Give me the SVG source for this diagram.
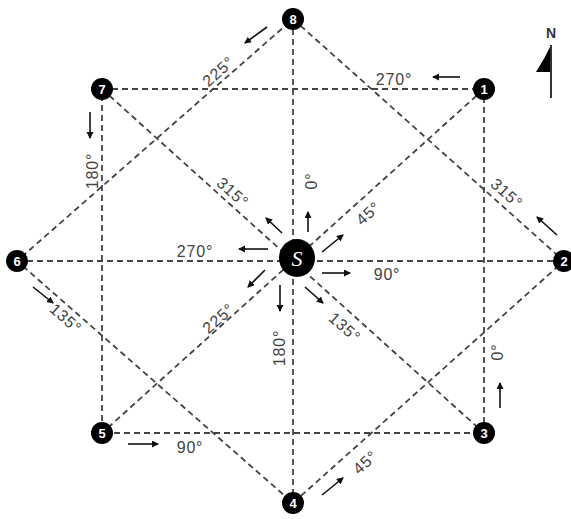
<svg xmlns="http://www.w3.org/2000/svg" width="571" height="519" viewBox="0 0 571 519">
<style>
.d{stroke:#444;stroke-width:1.8;stroke-dasharray:6 4;fill:none}
.a{stroke:#111;stroke-width:1.6;fill:none;marker-end:url(#ah)}
.t{font-family:"Liberation Sans",Arial,sans-serif;font-size:16px;fill:#444;text-anchor:middle;letter-spacing:0.8px}
.n circle{fill:#000}
.n text{font-family:"Liberation Sans",Arial,sans-serif;font-size:13px;font-weight:bold;fill:#fff;text-anchor:middle}
</style>
<defs>
<marker id="ah" markerWidth="8" markerHeight="8" refX="6" refY="3.5" orient="auto" markerUnits="userSpaceOnUse">
<path d="M0,0 L7,3.5 L0,7 Z" fill="#111"/>
</marker>
</defs>
<rect width="571" height="519" fill="#fff"/>
<g id="connectors">
<path class="d" d="M102,89 H484 V433 H102 Z"/>
<path class="d" d="M293,19 L564,261 L293,503 L17,261 Z"/>
<path class="d" d="M17,261 H564"/>
<path class="d" d="M293,19 V503"/>
<path class="d" d="M102,89 L484,433"/>
<path class="d" d="M484,89 L102,433"/>
</g>
<g id="arrows">
<path class="a" d="M460,77 L433,77"/>
<path class="a" d="M267,27 L245,43"/>
<path class="a" d="M90,112 L90,138"/>
<path class="a" d="M33,287 L53,303"/>
<path class="a" d="M128,444 L158,444"/>
<path class="a" d="M322,495 L343,478"/>
<path class="a" d="M500,408 L500,383"/>
<path class="a" d="M557,235 L537,217"/>
<path class="a" d="M308,232 L308,212"/>
<path class="a" d="M322,252 L343,235"/>
<path class="a" d="M322,273 L350,273"/>
<path class="a" d="M305,287 L323,303"/>
<path class="a" d="M280,285 L280,311"/>
<path class="a" d="M265,270 L248,287"/>
<path class="a" d="M268,249 L239,249"/>
<path class="a" d="M282,233 L266,218"/>
</g>
<g id="labels">
<text class="t" x="394" y="85">270°</text>
<text class="t" transform="translate(218,71) rotate(-41.8)" y="6">225°</text>
<text class="t" transform="translate(92,171) rotate(-90)" y="6">180°</text>
<text class="t" transform="translate(66,318) rotate(41.8)" y="6">135°</text>
<text class="t" x="190" y="453">90°</text>
<text class="t" transform="translate(365,462) rotate(-41.8)" y="6">45°</text>
<text class="t" transform="translate(497,352) rotate(-90)" y="6">0°</text>
<text class="t" transform="translate(507,193) rotate(41.8)" y="6">315°</text>
<text class="t" transform="translate(311,181) rotate(-90)" y="6">0°</text>
<text class="t" transform="translate(368,213) rotate(-41.8)" y="6">45°</text>
<text class="t" x="387" y="280">90°</text>
<text class="t" transform="translate(345,327) rotate(41.8)" y="6">135°</text>
<text class="t" transform="translate(279,348) rotate(-90)" y="6">180°</text>
<text class="t" transform="translate(218,318) rotate(-41.8)" y="6">225°</text>
<text class="t" x="195" y="257">270°</text>
<text class="t" transform="translate(233,192) rotate(41.8)" y="6">315°</text>
</g>
<g id="node1" class="n"><circle cx="484" cy="89" r="11"/><text x="484" y="94">1</text></g>
<g id="node2" class="n"><circle cx="564" cy="261" r="11"/><text x="564" y="266">2</text></g>
<g id="node3" class="n"><circle cx="484" cy="433" r="11"/><text x="484" y="438">3</text></g>
<g id="node4" class="n"><circle cx="293" cy="503" r="11"/><text x="293" y="508">4</text></g>
<g id="node5" class="n"><circle cx="102" cy="433" r="11"/><text x="102" y="438">5</text></g>
<g id="node6" class="n"><circle cx="17" cy="261" r="11"/><text x="17" y="266">6</text></g>
<g id="node7" class="n"><circle cx="102" cy="89" r="11"/><text x="102" y="94">7</text></g>
<g id="node8" class="n"><circle cx="293" cy="19" r="11"/><text x="293" y="24">8</text></g>
<g id="nodeS"><ellipse cx="297" cy="258" rx="18" ry="19" fill="#000"/><text x="297" y="266" font-family="Liberation Serif,serif" font-size="22" font-style="italic" fill="#fff" text-anchor="middle">S</text></g>
<g id="north">
<text x="551" y="38" font-family="Liberation Sans,Arial,sans-serif" font-size="14" font-weight="bold" fill="#333" text-anchor="middle">N</text>
<path d="M536,72 Q545,58 551,45 L551,72 Z" fill="#000"/>
<path d="M551,45 V98" stroke="#333" stroke-width="2"/>
</g>
</svg>
